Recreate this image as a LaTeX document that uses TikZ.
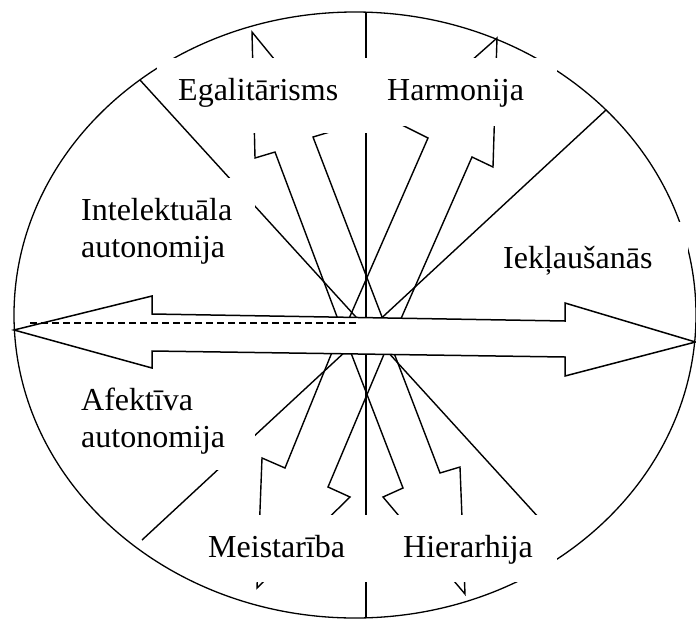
\documentclass[tikz,border=0pt]{standalone}
\usepackage{fontspec}
\setmainfont{Liberation Serif}
\usetikzlibrary{calc}

\begin{document}
\begin{tikzpicture}[
  x=1pt, y=-1pt,
  sector/.style={anchor=base west, inner sep=0pt, font=\fontsize{32}{37}\selectfont},
  twoline/.style={sector, text width=190pt, align=left},
  spoke/.style={line width=1.4pt},
  bolt/.style={line width=1.4pt, line join=miter},
  bigarrow/.style={line width=1.5pt, fill=white}
]
\useasboundingbox (0,0) rectangle (696,619);

\draw [line width=1.3pt] (355,315) ellipse [x radius=341, y radius=303];

\draw [spoke] (366,12) -- (366,618);
\draw [spoke] (606,110) -- (142,540);

\draw [bolt] (252,32) -- (333,131) -- (313,137) -- (387,330) -- (342,330) -- (275,152) -- (255,158) -- cycle;
\draw [bolt] (497,38) -- (493,167) -- (472,157) -- (396,330) -- (344,330) -- (428,138) -- (400,124) -- cycle;
\draw [bolt] (257,588) -- (262,458) -- (285,468) -- (337,340) -- (390,340) -- (328,487) -- (350,497) -- cycle;
\draw [bolt] (465,594) -- (460,467) -- (440,473) -- (389,340) -- (346,340) -- (403,488) -- (383,497) -- cycle;

\fill [white] (157,58) rectangle (367,133);
\fill [white] (366,58) rectangle (557,126);

\draw [spoke] (140,80) -- (550,530);

\foreach \xa/\ya/\xb/\yb in {70/178/255/290, 497/222/688/299, 70/380/255/470,
  195/515/366/582, 366/515/557/582}
  \fill [white] (\xa,\ya) rectangle (\xb,\yb);

\node (egal) [sector] at (178,100) {Egalitārisms};
\node (harm) [sector] at (387,100) {Harmonija};
\node (intel) [twoline] at (81,220) {Intelektuāla\\autonomija};
\node (iekl) [sector] at (503,268) {Iekļaušanās};
\node (afek) [twoline] at (81,410) {Afektīva\\autonomija};
\node (meist) [sector] at (208,557) {Meistarība};
\node (hier) [sector] at (403,557) {Hierarhija};

\draw [bigarrow] (14,330) -- (152,296) -- (152,314) -- (565,321) -- (565,303)
  -- (695.5,342) -- (565,376) -- (565,357) -- (152,351) -- (152,368) -- cycle;
\draw [line width=1.3pt, dash pattern=on 7pt off 4pt] (30,323) -- (358,323);
\end{tikzpicture}
\end{document}
